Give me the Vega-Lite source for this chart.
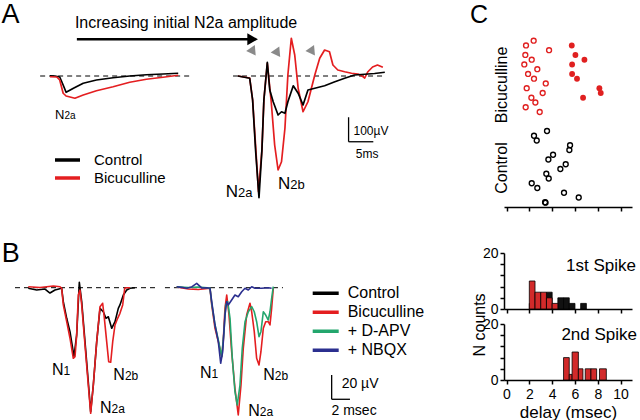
{
"$schema":"https://vega.github.io/schema/vega-lite/v6.json",
"padding":0,
"background":"white",
"config":{
 "view":{"stroke":null},
 "font":"Liberation Sans",
 "text":{"font":"Liberation Sans","color":"#000"},
 "axis":{"labelFont":"Liberation Sans","titleFont":"Liberation Sans","labelColor":"#000","titleColor":"#000","domainColor":"#000","tickColor":"#000","domainWidth":1.5,"tickWidth":1.5,"tickSize":4,"labelFontSize":14,"titleFontSize":17,"titleFontWeight":"normal","grid":false,"labelFlush":false},
 "legend":{"labelFont":"Liberation Sans","labelColor":"#000"}
},
"datasets":{
 "tracesA":[
  {"seg":"L","cond":"Control","t":10.2,"v":1},{"seg":"L","cond":"Control","t":11.2,"v":0},{"seg":"L","cond":"Control","t":12.2,"v":-4},{"seg":"L","cond":"Control","t":12.9,"v":-36},{"seg":"L","cond":"Control","t":13.5,"v":-65},{"seg":"L","cond":"Control","t":15.0,"v":-49},{"seg":"L","cond":"Control","t":17.0,"v":-29},{"seg":"L","cond":"Control","t":19.7,"v":-16},{"seg":"L","cond":"Control","t":23.1,"v":-7},{"seg":"L","cond":"Control","t":26.5,"v":0},{"seg":"L","cond":"Control","t":29.9,"v":5},{"seg":"L","cond":"Control","t":33.3,"v":8},{"seg":"L","cond":"Control","t":36.4,"v":11},
  {"seg":"L","cond":"Bicuculline","t":10.2,"v":-3},{"seg":"L","cond":"Bicuculline","t":11.6,"v":-4},{"seg":"L","cond":"Bicuculline","t":12.2,"v":-16},{"seg":"L","cond":"Bicuculline","t":12.9,"v":-69},{"seg":"L","cond":"Bicuculline","t":13.5,"v":-80},{"seg":"L","cond":"Bicuculline","t":15.3,"v":-89},{"seg":"L","cond":"Bicuculline","t":17.0,"v":-76},{"seg":"L","cond":"Bicuculline","t":19.7,"v":-59},{"seg":"L","cond":"Bicuculline","t":23.1,"v":-43},{"seg":"L","cond":"Bicuculline","t":26.5,"v":-25},{"seg":"L","cond":"Bicuculline","t":29.9,"v":-13},{"seg":"L","cond":"Bicuculline","t":33.3,"v":-5},{"seg":"L","cond":"Bicuculline","t":36.4,"v":3},
  {"seg":"R","cond":"Bicuculline","t":48.6,"v":0},{"seg":"R","cond":"Bicuculline","t":51.0,"v":-8},{"seg":"R","cond":"Bicuculline","t":51.6,"v":-96},{"seg":"R","cond":"Bicuculline","t":52.2,"v":-276},{"seg":"R","cond":"Bicuculline","t":52.8,"v":-463},{"seg":"R","cond":"Bicuculline","t":53.5,"v":-296},{"seg":"R","cond":"Bicuculline","t":53.9,"v":-96},{"seg":"R","cond":"Bicuculline","t":54.6,"v":51},{"seg":"R","cond":"Bicuculline","t":55.4,"v":-103},{"seg":"R","cond":"Bicuculline","t":56.1,"v":-276},{"seg":"R","cond":"Bicuculline","t":56.8,"v":-376},{"seg":"R","cond":"Bicuculline","t":57.5,"v":-343},{"seg":"R","cond":"Bicuculline","t":58.2,"v":-209},{"seg":"R","cond":"Bicuculline","t":58.8,"v":4},{"seg":"R","cond":"Bicuculline","t":59.5,"v":151},{"seg":"R","cond":"Bicuculline","t":60.2,"v":84},{"seg":"R","cond":"Bicuculline","t":60.9,"v":-49},{"seg":"R","cond":"Bicuculline","t":61.9,"v":-143},{"seg":"R","cond":"Bicuculline","t":62.9,"v":-103},{"seg":"R","cond":"Bicuculline","t":64.3,"v":4},{"seg":"R","cond":"Bicuculline","t":65.3,"v":71},{"seg":"R","cond":"Bicuculline","t":66.3,"v":104},{"seg":"R","cond":"Bicuculline","t":67.3,"v":97},{"seg":"R","cond":"Bicuculline","t":68.0,"v":44},{"seg":"R","cond":"Bicuculline","t":69.0,"v":24},{"seg":"R","cond":"Bicuculline","t":70.4,"v":17},{"seg":"R","cond":"Bicuculline","t":71.8,"v":11},{"seg":"R","cond":"Bicuculline","t":73.1,"v":8},{"seg":"R","cond":"Bicuculline","t":74.1,"v":-2},{"seg":"R","cond":"Bicuculline","t":74.5,"v":-8},{"seg":"R","cond":"Bicuculline","t":75.1,"v":16},{"seg":"R","cond":"Bicuculline","t":76.1,"v":36},{"seg":"R","cond":"Bicuculline","t":77.1,"v":44},{"seg":"R","cond":"Bicuculline","t":78.2,"v":35},
  {"seg":"R","cond":"Control","t":48.6,"v":0},{"seg":"R","cond":"Control","t":51.0,"v":-9},{"seg":"R","cond":"Control","t":51.6,"v":-96},{"seg":"R","cond":"Control","t":52.2,"v":-296},{"seg":"R","cond":"Control","t":52.9,"v":-487},{"seg":"R","cond":"Control","t":53.5,"v":-296},{"seg":"R","cond":"Control","t":53.9,"v":-96},{"seg":"R","cond":"Control","t":54.6,"v":55},{"seg":"R","cond":"Control","t":55.1,"v":-56},{"seg":"R","cond":"Control","t":55.8,"v":-103},{"seg":"R","cond":"Control","t":56.8,"v":-156},{"seg":"R","cond":"Control","t":57.5,"v":-143},{"seg":"R","cond":"Control","t":58.2,"v":-149},{"seg":"R","cond":"Control","t":58.8,"v":-103},{"seg":"R","cond":"Control","t":59.9,"v":-39},{"seg":"R","cond":"Control","t":60.9,"v":-69},{"seg":"R","cond":"Control","t":61.9,"v":-116},{"seg":"R","cond":"Control","t":62.9,"v":-56},{"seg":"R","cond":"Control","t":64.3,"v":-49},{"seg":"R","cond":"Control","t":66.3,"v":-39},{"seg":"R","cond":"Control","t":68.4,"v":-23},{"seg":"R","cond":"Control","t":70.4,"v":-9},{"seg":"R","cond":"Control","t":72.4,"v":4},{"seg":"R","cond":"Control","t":74.5,"v":7},{"seg":"R","cond":"Control","t":76.5,"v":10},{"seg":"R","cond":"Control","t":78.6,"v":15}
 ],
 "tracesB":[
  {"seg":"L","cond":"Control","t":3.09,"v":-0.5},{"seg":"L","cond":"Control","t":4.01,"v":-1.9},{"seg":"L","cond":"Control","t":4.92,"v":-1.1},{"seg":"L","cond":"Control","t":5.46,"v":-4.4},{"seg":"L","cond":"Control","t":6.01,"v":-1.9},{"seg":"L","cond":"Control","t":6.74,"v":-0.5},{"seg":"L","cond":"Control","t":6.92,"v":-11.5},{"seg":"L","cond":"Control","t":7.29,"v":-25.2},{"seg":"L","cond":"Control","t":7.65,"v":-36.2},{"seg":"L","cond":"Control","t":8.09,"v":-56.8},{"seg":"L","cond":"Control","t":8.38,"v":-38.9},{"seg":"L","cond":"Control","t":8.67,"v":4.4},{"seg":"L","cond":"Control","t":8.93,"v":-11.5},{"seg":"L","cond":"Control","t":9.29,"v":-44.4},{"seg":"L","cond":"Control","t":9.65,"v":-77.4},{"seg":"L","cond":"Control","t":9.91,"v":-102.1},{"seg":"L","cond":"Control","t":10.2,"v":-80.1},{"seg":"L","cond":"Control","t":10.57,"v":-44.4},{"seg":"L","cond":"Control","t":10.93,"v":-17},{"seg":"L","cond":"Control","t":11.29,"v":-19.8},{"seg":"L","cond":"Control","t":11.58,"v":-25.2},{"seg":"L","cond":"Control","t":11.84,"v":-23.9},{"seg":"L","cond":"Control","t":12.21,"v":-33.4},{"seg":"L","cond":"Control","t":12.57,"v":-28},{"seg":"L","cond":"Control","t":12.93,"v":-17},{"seg":"L","cond":"Control","t":13.11,"v":-14.2},{"seg":"L","cond":"Control","t":13.48,"v":-6},{"seg":"L","cond":"Control","t":13.85,"v":-1.9},{"seg":"L","cond":"Control","t":14.21,"v":-0.5},{"seg":"L","cond":"Control","t":14.75,"v":0},
  {"seg":"L","cond":"Bicuculline","t":3.09,"v":0.8},{"seg":"L","cond":"Bicuculline","t":4.37,"v":0.2},{"seg":"L","cond":"Bicuculline","t":5.83,"v":1.4},{"seg":"L","cond":"Bicuculline","t":6.56,"v":0.8},{"seg":"L","cond":"Bicuculline","t":6.74,"v":-0.5},{"seg":"L","cond":"Bicuculline","t":6.92,"v":-14.2},{"seg":"L","cond":"Bicuculline","t":7.29,"v":-28},{"seg":"L","cond":"Bicuculline","t":7.65,"v":-41.6},{"seg":"L","cond":"Bicuculline","t":8.01,"v":-58.1},{"seg":"L","cond":"Bicuculline","t":8.2,"v":-56.8},{"seg":"L","cond":"Bicuculline","t":8.38,"v":-38.9},{"seg":"L","cond":"Bicuculline","t":8.56,"v":-6},{"seg":"L","cond":"Bicuculline","t":8.74,"v":-1.9},{"seg":"L","cond":"Bicuculline","t":8.93,"v":-14.2},{"seg":"L","cond":"Bicuculline","t":9.29,"v":-47.2},{"seg":"L","cond":"Bicuculline","t":9.65,"v":-80.1},{"seg":"L","cond":"Bicuculline","t":9.91,"v":-103.4},{"seg":"L","cond":"Bicuculline","t":10.2,"v":-80.1},{"seg":"L","cond":"Bicuculline","t":10.57,"v":-44.4},{"seg":"L","cond":"Bicuculline","t":10.93,"v":-15.6},{"seg":"L","cond":"Bicuculline","t":11.22,"v":-12.8},{"seg":"L","cond":"Bicuculline","t":11.37,"v":-22.5},{"seg":"L","cond":"Bicuculline","t":11.66,"v":-44.4},{"seg":"L","cond":"Bicuculline","t":11.88,"v":-60.9},{"seg":"L","cond":"Bicuculline","t":12.1,"v":-61.4},{"seg":"L","cond":"Bicuculline","t":12.32,"v":-44.4},{"seg":"L","cond":"Bicuculline","t":12.57,"v":-30.7},{"seg":"L","cond":"Bicuculline","t":12.86,"v":-25.2},{"seg":"L","cond":"Bicuculline","t":13.11,"v":-21.1},{"seg":"L","cond":"Bicuculline","t":13.41,"v":-14.2},{"seg":"L","cond":"Bicuculline","t":13.63,"v":-0.5},{"seg":"L","cond":"Bicuculline","t":13.85,"v":0},{"seg":"L","cond":"Bicuculline","t":14.21,"v":0},
  {"seg":"R","cond":"Bicuculline","t":19.31,"v":0.6},{"seg":"R","cond":"Bicuculline","t":20.58,"v":-1.1},{"seg":"R","cond":"Bicuculline","t":21.67,"v":-1.5},{"seg":"R","cond":"Bicuculline","t":22.95,"v":-0.5},{"seg":"R","cond":"Bicuculline","t":23.14,"v":-14.2},{"seg":"R","cond":"Bicuculline","t":23.5,"v":-33.4},{"seg":"R","cond":"Bicuculline","t":23.86,"v":-44.4},{"seg":"R","cond":"Bicuculline","t":24.23,"v":-56.8},{"seg":"R","cond":"Bicuculline","t":24.4,"v":-44.4},{"seg":"R","cond":"Bicuculline","t":24.59,"v":-17},{"seg":"R","cond":"Bicuculline","t":24.78,"v":-6},{"seg":"R","cond":"Bicuculline","t":25.03,"v":-22.5},{"seg":"R","cond":"Bicuculline","t":25.32,"v":-52.7},{"seg":"R","cond":"Bicuculline","t":25.68,"v":-82.8},{"seg":"R","cond":"Bicuculline","t":26.04,"v":-104.8},{"seg":"R","cond":"Bicuculline","t":26.34,"v":-80.1},{"seg":"R","cond":"Bicuculline","t":26.59,"v":-49.9},{"seg":"R","cond":"Bicuculline","t":26.96,"v":-22.5},{"seg":"R","cond":"Bicuculline","t":27.32,"v":-12.8},{"seg":"R","cond":"Bicuculline","t":27.51,"v":-19.8},{"seg":"R","cond":"Bicuculline","t":27.79,"v":-36.2},{"seg":"R","cond":"Bicuculline","t":28.05,"v":-58.1},{"seg":"R","cond":"Bicuculline","t":28.31,"v":-63.6},{"seg":"R","cond":"Bicuculline","t":28.52,"v":-52.7},{"seg":"R","cond":"Bicuculline","t":28.78,"v":-33.4},{"seg":"R","cond":"Bicuculline","t":29.04,"v":-28},{"seg":"R","cond":"Bicuculline","t":29.32,"v":-28},{"seg":"R","cond":"Bicuculline","t":29.51,"v":-30.7},{"seg":"R","cond":"Bicuculline","t":29.69,"v":-17},{"seg":"R","cond":"Bicuculline","t":29.87,"v":-0.5},
  {"seg":"R","cond":"+ D-APV","t":19.31,"v":0.8},{"seg":"R","cond":"+ D-APV","t":20.58,"v":0.2},{"seg":"R","cond":"+ D-APV","t":21.67,"v":0.6},{"seg":"R","cond":"+ D-APV","t":22.95,"v":-0.2},{"seg":"R","cond":"+ D-APV","t":23.14,"v":-12.8},{"seg":"R","cond":"+ D-APV","t":23.5,"v":-30.7},{"seg":"R","cond":"+ D-APV","t":23.86,"v":-43},{"seg":"R","cond":"+ D-APV","t":24.23,"v":-56.8},{"seg":"R","cond":"+ D-APV","t":24.48,"v":-36.2},{"seg":"R","cond":"+ D-APV","t":24.67,"v":-14.2},{"seg":"R","cond":"+ D-APV","t":24.89,"v":-11.5},{"seg":"R","cond":"+ D-APV","t":25.14,"v":-25.2},{"seg":"R","cond":"+ D-APV","t":25.39,"v":-58.1},{"seg":"R","cond":"+ D-APV","t":25.68,"v":-85.6},{"seg":"R","cond":"+ D-APV","t":25.93,"v":-96.5},{"seg":"R","cond":"+ D-APV","t":26.23,"v":-80.1},{"seg":"R","cond":"+ D-APV","t":26.48,"v":-49.9},{"seg":"R","cond":"+ D-APV","t":26.78,"v":-28},{"seg":"R","cond":"+ D-APV","t":27.14,"v":-19.8},{"seg":"R","cond":"+ D-APV","t":27.51,"v":-15.6},{"seg":"R","cond":"+ D-APV","t":27.79,"v":-19.8},{"seg":"R","cond":"+ D-APV","t":28.05,"v":-28},{"seg":"R","cond":"+ D-APV","t":28.31,"v":-40.3},{"seg":"R","cond":"+ D-APV","t":28.52,"v":-36.2},{"seg":"R","cond":"+ D-APV","t":28.78,"v":-19.8},{"seg":"R","cond":"+ D-APV","t":29.04,"v":-22.5},{"seg":"R","cond":"+ D-APV","t":29.32,"v":-26.6},{"seg":"R","cond":"+ D-APV","t":29.51,"v":-19.8},{"seg":"R","cond":"+ D-APV","t":29.69,"v":-8.7},{"seg":"R","cond":"+ D-APV","t":29.87,"v":0.8},
  {"seg":"R","cond":"+ NBQX","t":19.31,"v":0.8},{"seg":"R","cond":"+ NBQX","t":19.86,"v":0.3},{"seg":"R","cond":"+ NBQX","t":20.4,"v":-0.5},{"seg":"R","cond":"+ NBQX","t":20.95,"v":0.6},{"seg":"R","cond":"+ NBQX","t":21.5,"v":3.6},{"seg":"R","cond":"+ NBQX","t":22.04,"v":-0.2},{"seg":"R","cond":"+ NBQX","t":22.59,"v":0},{"seg":"R","cond":"+ NBQX","t":22.95,"v":-0.5},{"seg":"R","cond":"+ NBQX","t":23.14,"v":-11.5},{"seg":"R","cond":"+ NBQX","t":23.5,"v":-30.7},{"seg":"R","cond":"+ NBQX","t":23.86,"v":-44.4},{"seg":"R","cond":"+ NBQX","t":24.12,"v":-62.2},{"seg":"R","cond":"+ NBQX","t":24.34,"v":-52.7},{"seg":"R","cond":"+ NBQX","t":24.59,"v":-22.5},{"seg":"R","cond":"+ NBQX","t":24.78,"v":-11.5},{"seg":"R","cond":"+ NBQX","t":24.95,"v":-14.2},{"seg":"R","cond":"+ NBQX","t":25.32,"v":-10.1},{"seg":"R","cond":"+ NBQX","t":25.68,"v":-6},{"seg":"R","cond":"+ NBQX","t":26.04,"v":-7.4},{"seg":"R","cond":"+ NBQX","t":26.42,"v":-3.3},{"seg":"R","cond":"+ NBQX","t":26.78,"v":-0.5},{"seg":"R","cond":"+ NBQX","t":27.14,"v":-1.9},{"seg":"R","cond":"+ NBQX","t":27.51,"v":0.8},{"seg":"R","cond":"+ NBQX","t":27.87,"v":-0.5},{"seg":"R","cond":"+ NBQX","t":28.6,"v":-0.5},{"seg":"R","cond":"+ NBQX","t":29.32,"v":0},{"seg":"R","cond":"+ NBQX","t":29.69,"v":-0.5}
 ],
 "raster":[
  {"cond":"Bicuculline","spike":"1st","trial":1,"delay":2.38},{"cond":"Bicuculline","spike":"1st","trial":2,"delay":1.71},{"cond":"Bicuculline","spike":"1st","trial":3,"delay":3.73},{"cond":"Bicuculline","spike":"1st","trial":4,"delay":1.65},{"cond":"Bicuculline","spike":"1st","trial":5,"delay":2.21},{"cond":"Bicuculline","spike":"1st","trial":6,"delay":1.56},{"cond":"Bicuculline","spike":"1st","trial":7,"delay":2.7},{"cond":"Bicuculline","spike":"1st","trial":8,"delay":1.89},{"cond":"Bicuculline","spike":"1st","trial":9,"delay":2.41},{"cond":"Bicuculline","spike":"1st","trial":10,"delay":3.44},{"cond":"Bicuculline","spike":"1st","trial":11,"delay":1.77},{"cond":"Bicuculline","spike":"1st","trial":12,"delay":3.17},{"cond":"Bicuculline","spike":"1st","trial":13,"delay":2.18},{"cond":"Bicuculline","spike":"1st","trial":14,"delay":2.53},{"cond":"Bicuculline","spike":"1st","trial":15,"delay":1.68},{"cond":"Bicuculline","spike":"1st","trial":16,"delay":2.91},
  {"cond":"Bicuculline","spike":"2nd","trial":2,"delay":5.72},{"cond":"Bicuculline","spike":"2nd","trial":4,"delay":6.04},{"cond":"Bicuculline","spike":"2nd","trial":5,"delay":6.83},{"cond":"Bicuculline","spike":"2nd","trial":6,"delay":5.75},{"cond":"Bicuculline","spike":"2nd","trial":8,"delay":5.75},{"cond":"Bicuculline","spike":"2nd","trial":9,"delay":6.18},{"cond":"Bicuculline","spike":"2nd","trial":11,"delay":8.14},{"cond":"Bicuculline","spike":"2nd","trial":12,"delay":8.26},{"cond":"Bicuculline","spike":"2nd","trial":13,"delay":6.71},
  {"cond":"Control","spike":"1st","trial":20,"delay":3.55},{"cond":"Control","spike":"1st","trial":21,"delay":2.41},{"cond":"Control","spike":"1st","trial":22,"delay":2.65},{"cond":"Control","spike":"1st","trial":23,"delay":5.57},{"cond":"Control","spike":"1st","trial":24,"delay":5.51},{"cond":"Control","spike":"1st","trial":25,"delay":4.08},{"cond":"Control","spike":"1st","trial":26,"delay":3.67},{"cond":"Control","spike":"1st","trial":27,"delay":5.19},{"cond":"Control","spike":"1st","trial":28,"delay":4.72},{"cond":"Control","spike":"1st","trial":29,"delay":3.49},{"cond":"Control","spike":"1st","trial":30,"delay":3.7},{"cond":"Control","spike":"1st","trial":31,"delay":2.21},{"cond":"Control","spike":"1st","trial":32,"delay":2.7},{"cond":"Control","spike":"1st","trial":33,"delay":5.04},{"cond":"Control","spike":"1st","trial":34,"delay":6.33},{"cond":"Control","spike":"1st","trial":35,"delay":3.38},{"cond":"Control","spike":"1st","trial":35.1,"delay":3.42}
 ],
 "hist":[
  {"spike":"1st","cond":"Control","start":2.0,"end":2.5,"count":2},{"spike":"1st","cond":"Control","start":3.5,"end":4.0,"count":6},{"spike":"1st","cond":"Control","start":4.5,"end":5.0,"count":4},{"spike":"1st","cond":"Control","start":5.0,"end":5.5,"count":4},{"spike":"1st","cond":"Control","start":5.5,"end":6.0,"count":2},{"spike":"1st","cond":"Control","start":6.5,"end":7.0,"count":2},
  {"spike":"1st","cond":"Bicuculline","start":2.0,"end":2.5,"count":10},{"spike":"1st","cond":"Bicuculline","start":2.5,"end":3.0,"count":6},{"spike":"1st","cond":"Bicuculline","start":3.0,"end":3.5,"count":6},{"spike":"1st","cond":"Bicuculline","start":3.5,"end":4.0,"count":4},{"spike":"1st","cond":"Bicuculline","start":4.0,"end":4.5,"count":2},
  {"spike":"2nd","cond":"Bicuculline","start":5.0,"end":5.5,"count":8},{"spike":"2nd","cond":"Bicuculline","start":5.5,"end":5.75,"count":2},{"spike":"2nd","cond":"Bicuculline","start":5.75,"end":6.3,"count":10},{"spike":"2nd","cond":"Bicuculline","start":6.3,"end":6.7,"count":4},{"spike":"2nd","cond":"Bicuculline","start":6.9,"end":7.4,"count":4},{"spike":"2nd","cond":"Bicuculline","start":7.4,"end":7.9,"count":4},{"spike":"2nd","cond":"Bicuculline","start":8.15,"end":8.75,"count":4}
 ]
},
"spacing":0,
"resolve":{"scale":{"color":"independent","x":"independent","y":"independent"},"legend":{"color":"independent"}},
"hconcat":[
 {"bounds":"flush","spacing":0,
  "resolve":{"scale":{"color":"independent","x":"independent","y":"independent"},"legend":{"color":"independent"}},
  "vconcat":[
  {"width":470,"height":205,
   "encoding":{
    "x":{"field":"t","type":"quantitative","scale":{"domain":[0,96],"nice":false,"zero":false},"axis":null},
    "y":{"field":"v","type":"quantitative","scale":{"domain":[-516,304],"nice":false,"zero":false},"axis":null}
   },
   "layer":[
    {"data":{"values":[{"t":8.2,"t2":39.2,"v":0},{"t":47.6,"t2":78.6,"v":0}]},"mark":{"type":"rule","strokeDash":[5,4],"strokeWidth":1,"color":"#000"},"encoding":{"x2":{"field":"t2"}}},
    {"data":{"name":"tracesA"},"mark":{"type":"line","strokeWidth":1.7,"strokeJoin":"round"},
     "encoding":{"color":{"field":"cond","type":"nominal","scale":{"domain":["Control","Bicuculline"],"range":["#000000","#e41e20"]},
       "legend":{"title":null,"orient":"none","legendX":53,"legendY":152.5,"symbolType":"stroke","symbolSize":625,"symbolStrokeWidth":3.5,"clipHeight":15,"rowPadding":2,"labelFontSize":15,"labelOffset":12,"padding":0}},
      "detail":{"field":"seg"}}},
    {"data":{"values":[{"t":15.7,"t2":51,"v":147}]},"mark":{"type":"rule","strokeWidth":2.5,"color":"#000"},"encoding":{"x2":{"field":"t2"}}},
    {"data":{"values":[{"t":51.6,"v":147}]},"mark":{"type":"point","shape":"triangle-right","filled":true,"size":150,"color":"#000","opacity":1}},
    {"data":{"values":[{"t":51.7,"v":97},{"t":56.7,"v":91},{"t":63.8,"v":97}]},"mark":{"type":"point","shape":"triangle-down","angle":325,"filled":true,"size":110,"color":"#8a8a8a","opacity":1}},
    {"data":{"values":[{"t":15.3,"v":212,"text":"Increasing initial N2a amplitude"}]},"mark":{"type":"text","align":"left","baseline":"middle","fontSize":16},"encoding":{"text":{"field":"text"}}},
    {"data":{"values":[{"t":13.15,"v":-173,"main":"N","sub":"2a"}]},"mark":{"type":"text","align":"right","baseline":"alphabetic","fontSize":13},"encoding":{"text":{"field":"main"}}},
    {"data":{"values":[{"t":13.15,"v":-173,"main":"N","sub":"2a"}]},"mark":{"type":"text","align":"left","baseline":"alphabetic","fontSize":10},"encoding":{"text":{"field":"sub"}}},
    {"data":{"values":[{"t":48.6,"v":-483,"main":"N","sub":"2a"},{"t":59.3,"v":-453,"main":"N","sub":"2b"}]},"mark":{"type":"text","align":"right","baseline":"alphabetic","fontSize":17},"encoding":{"text":{"field":"main"}}},
    {"data":{"values":[{"t":48.6,"v":-483,"main":"N","sub":"2a"},{"t":59.3,"v":-453,"main":"N","sub":"2b"}]},"mark":{"type":"text","align":"left","baseline":"alphabetic","fontSize":13},"encoding":{"text":{"field":"sub"}}},
    {"data":{"values":[{"t":71.2,"v":-165,"v2":-263}]},"mark":{"type":"rule","strokeWidth":1.3,"color":"#000"},"encoding":{"y2":{"field":"v2"}}},
    {"data":{"values":[{"t":71.2,"t2":76.25,"v":-263}]},"mark":{"type":"rule","strokeWidth":1.3,"color":"#000"},"encoding":{"x2":{"field":"t2"}}},
    {"data":{"values":[{"t":72.2,"v":-218,"text":"100µV"}]},"mark":{"type":"text","align":"left","baseline":"middle","fontSize":12},"encoding":{"text":{"field":"text"}}},
    {"data":{"values":[{"t":75.0,"v":-312,"text":"5ms"}]},"mark":{"type":"text","align":"center","baseline":"middle","fontSize":12},"encoding":{"text":{"field":"text"}}},
    {"data":{"values":[{"t":0.3,"v":213,"text":"A"}]},"mark":{"type":"text","align":"left","baseline":"alphabetic","fontSize":27},"encoding":{"text":{"field":"text"}}}
   ]
  },
  {"width":470,"height":215,
   "encoding":{
    "x":{"field":"t","type":"quantitative","scale":{"domain":[0,51.37],"nice":false,"zero":false},"axis":null},
    "y":{"field":"v","type":"quantitative","scale":{"domain":[-108.9,68.07],"nice":false,"zero":false},"axis":null}
   },
   "layer":[
    {"data":{"values":[{"t":1.64,"t2":16.94,"v":0},{"t":18.03,"t2":30.93,"v":0}]},"mark":{"type":"rule","strokeDash":[5,4],"strokeWidth":1,"color":"#000"},"encoding":{"x2":{"field":"t2"}}},
    {"data":{"name":"tracesB"},"mark":{"type":"line","strokeWidth":1.6,"strokeJoin":"round"},
     "encoding":{"color":{"field":"cond","type":"nominal","scale":{"domain":["Control","Bicuculline","+ D-APV","+ NBQX"],"range":["#000000","#e41e20","#23a66d","#2b2f8f"]},
       "legend":{"title":null,"orient":"none","legendX":310.7,"legendY":79.8,"symbolType":"stroke","symbolSize":676,"symbolStrokeWidth":3.5,"clipHeight":17,"rowPadding":2,"labelFontSize":16,"labelOffset":7,"padding":0}},
      "detail":{"field":"seg"}}},
    {"data":{"values":[{"t":6.95,"v":-71.9,"main":"N","sub":"1"},{"t":13.65,"v":-76,"main":"N","sub":"2b"},{"t":12.2,"v":-103.1,"main":"N","sub":"2a"},{"t":23.13,"v":-74.3,"main":"N","sub":"1"},{"t":30.04,"v":-76,"main":"N","sub":"2b"},{"t":28.4,"v":-105.6,"main":"N","sub":"2a"}]},"mark":{"type":"text","align":"right","baseline":"alphabetic","fontSize":16},"encoding":{"text":{"field":"main"}}},
    {"data":{"values":[{"t":6.95,"v":-71.9,"main":"N","sub":"1"},{"t":13.65,"v":-76,"main":"N","sub":"2b"},{"t":12.2,"v":-103.1,"main":"N","sub":"2a"},{"t":23.13,"v":-74.3,"main":"N","sub":"1"},{"t":30.04,"v":-76,"main":"N","sub":"2b"},{"t":28.4,"v":-105.6,"main":"N","sub":"2a"}]},"mark":{"type":"text","align":"left","baseline":"alphabetic","fontSize":12},"encoding":{"text":{"field":"sub"}}},
    {"data":{"values":[{"t":36.25,"v":-71.85,"v2":-91.85}]},"mark":{"type":"rule","strokeWidth":1.3,"color":"#000"},"encoding":{"y2":{"field":"v2"}}},
    {"data":{"values":[{"t":36.25,"t2":38.25,"v":-91.85}]},"mark":{"type":"rule","strokeWidth":1.3,"color":"#000"},"encoding":{"x2":{"field":"t2"}}},
    {"data":{"values":[{"t":37.34,"v":-79.5,"text":"20 µV"}]},"mark":{"type":"text","align":"left","baseline":"middle","fontSize":14},"encoding":{"text":{"field":"text"}}},
    {"data":{"values":[{"t":38.7,"v":-101.5,"text":"2 msec"}]},"mark":{"type":"text","align":"center","baseline":"middle","fontSize":14},"encoding":{"text":{"field":"text"}}},
    {"data":{"values":[{"t":0.19,"v":21.4,"text":"B"}]},"mark":{"type":"text","align":"left","baseline":"alphabetic","fontSize":27},"encoding":{"text":{"field":"text"}}}
   ]
  }
 ]},
 {"bounds":"flush","spacing":46,
  "resolve":{"scale":{"color":"independent","x":"independent","y":"independent"},"legend":{"color":"independent"}},
  "vconcat":[
  {"width":128,"height":207,
   "encoding":{
    "x":{"field":"delay","type":"quantitative","scale":{"domain":[-0.22,11],"nice":false,"zero":false},"axis":{"values":[0,2,4,6,8,10],"labels":false,"title":null}},
    "y":{"field":"trial","type":"quantitative","scale":{"domain":[-7.57,36],"reverse":true,"nice":false,"zero":false},"axis":null}
   },
   "layer":[
    {"data":{"name":"raster"},"transform":[{"filter":"datum.spike=='1st'"}],"mark":{"type":"point","filled":false,"size":24,"strokeWidth":1.4,"opacity":1},
     "encoding":{"color":{"field":"cond","type":"nominal","scale":{"domain":["Bicuculline","Control"],"range":["#e02020","#000000"]},"legend":null}}},
    {"data":{"name":"raster"},"transform":[{"filter":"datum.spike=='2nd'"}],"mark":{"type":"point","filled":true,"size":34,"opacity":1},
     "encoding":{"color":{"field":"cond","type":"nominal","scale":{"domain":["Bicuculline","Control"],"range":["#e02020","#000000"]},"legend":null}}},
    {"data":{"values":[{"delay":-0.39,"trial":10.3,"text":"Bicuculline"},{"delay":-0.39,"trial":27.8,"text":"Control"}]},"mark":{"type":"text","angle":270,"align":"center","baseline":"middle","fontSize":16},"encoding":{"text":{"field":"text"}}},
    {"data":{"values":[{"delay":-3.2,"trial":-2.7,"text":"C"}]},"mark":{"type":"text","align":"left","baseline":"alphabetic","fontSize":25},"encoding":{"text":{"field":"text"}}}
   ]
  },
  {"bounds":"flush","spacing":15,
   "resolve":{"scale":{"color":"independent","x":"independent","y":"independent"},"legend":{"color":"independent"}},
   "vconcat":[
   {"width":128,"height":56,
    "encoding":{
     "x":{"field":"start","type":"quantitative","scale":{"domain":[-0.22,11],"nice":false,"zero":false},"axis":{"values":[0,2,4,6,8,10],"labels":false,"title":null}},
     "y":{"field":"count","type":"quantitative","scale":{"domain":[0,20],"nice":false},"axis":{"values":[0,4,8,12,16,20],"labelExpr":"datum.value==0||datum.value==20?datum.label:''","title":null,"labelPadding":2}}
    },
    "layer":[
     {"data":{"name":"hist"},"transform":[{"filter":"datum.spike=='1st'"}],"mark":{"type":"rect","stroke":"#000","strokeWidth":0.8,"opacity":1},
      "encoding":{"x2":{"field":"end"},"y2":{"datum":0},"color":{"field":"cond","type":"nominal","scale":{"domain":["Control","Bicuculline"],"range":["#111111","#d22a2a"]},"legend":null}}},
     {"data":{"values":[{"start":11.35,"count":13.4,"text":"1st Spike"}]},"mark":{"type":"text","align":"right","baseline":"alphabetic","fontSize":17},"encoding":{"text":{"field":"text"}}},
     {"data":{"values":[{"start":-2.3,"count":-5.7,"text":"N counts"}]},"mark":{"type":"text","angle":270,"align":"center","baseline":"middle","fontSize":16},"encoding":{"text":{"field":"text"}}}
    ]
   },
   {"width":128,"height":56,
    "encoding":{
     "x":{"field":"start","type":"quantitative","scale":{"domain":[-0.22,11],"nice":false,"zero":false},"axis":{"values":[0,2,4,6,8,10],"title":"delay (msec)","labelPadding":3,"titlePadding":3}},
     "y":{"field":"count","type":"quantitative","scale":{"domain":[0,20],"nice":false},"axis":{"values":[0,4,8,12,16,20],"labelExpr":"datum.value==0||datum.value==20?datum.label:''","title":null,"labelPadding":2}}
    },
    "layer":[
     {"data":{"name":"hist"},"transform":[{"filter":"datum.spike=='2nd'"}],"mark":{"type":"rect","stroke":"#000","strokeWidth":0.8,"opacity":1},
      "encoding":{"x2":{"field":"end"},"y2":{"datum":0},"color":{"field":"cond","type":"nominal","scale":{"domain":["Control","Bicuculline"],"range":["#111111","#d22a2a"]},"legend":null}}},
     {"data":{"values":[{"start":11.44,"count":14.3,"text":"2nd Spike"}]},"mark":{"type":"text","align":"right","baseline":"alphabetic","fontSize":17},"encoding":{"text":{"field":"text"}}}
    ]
   }
  ]}
 ]}
]
}
